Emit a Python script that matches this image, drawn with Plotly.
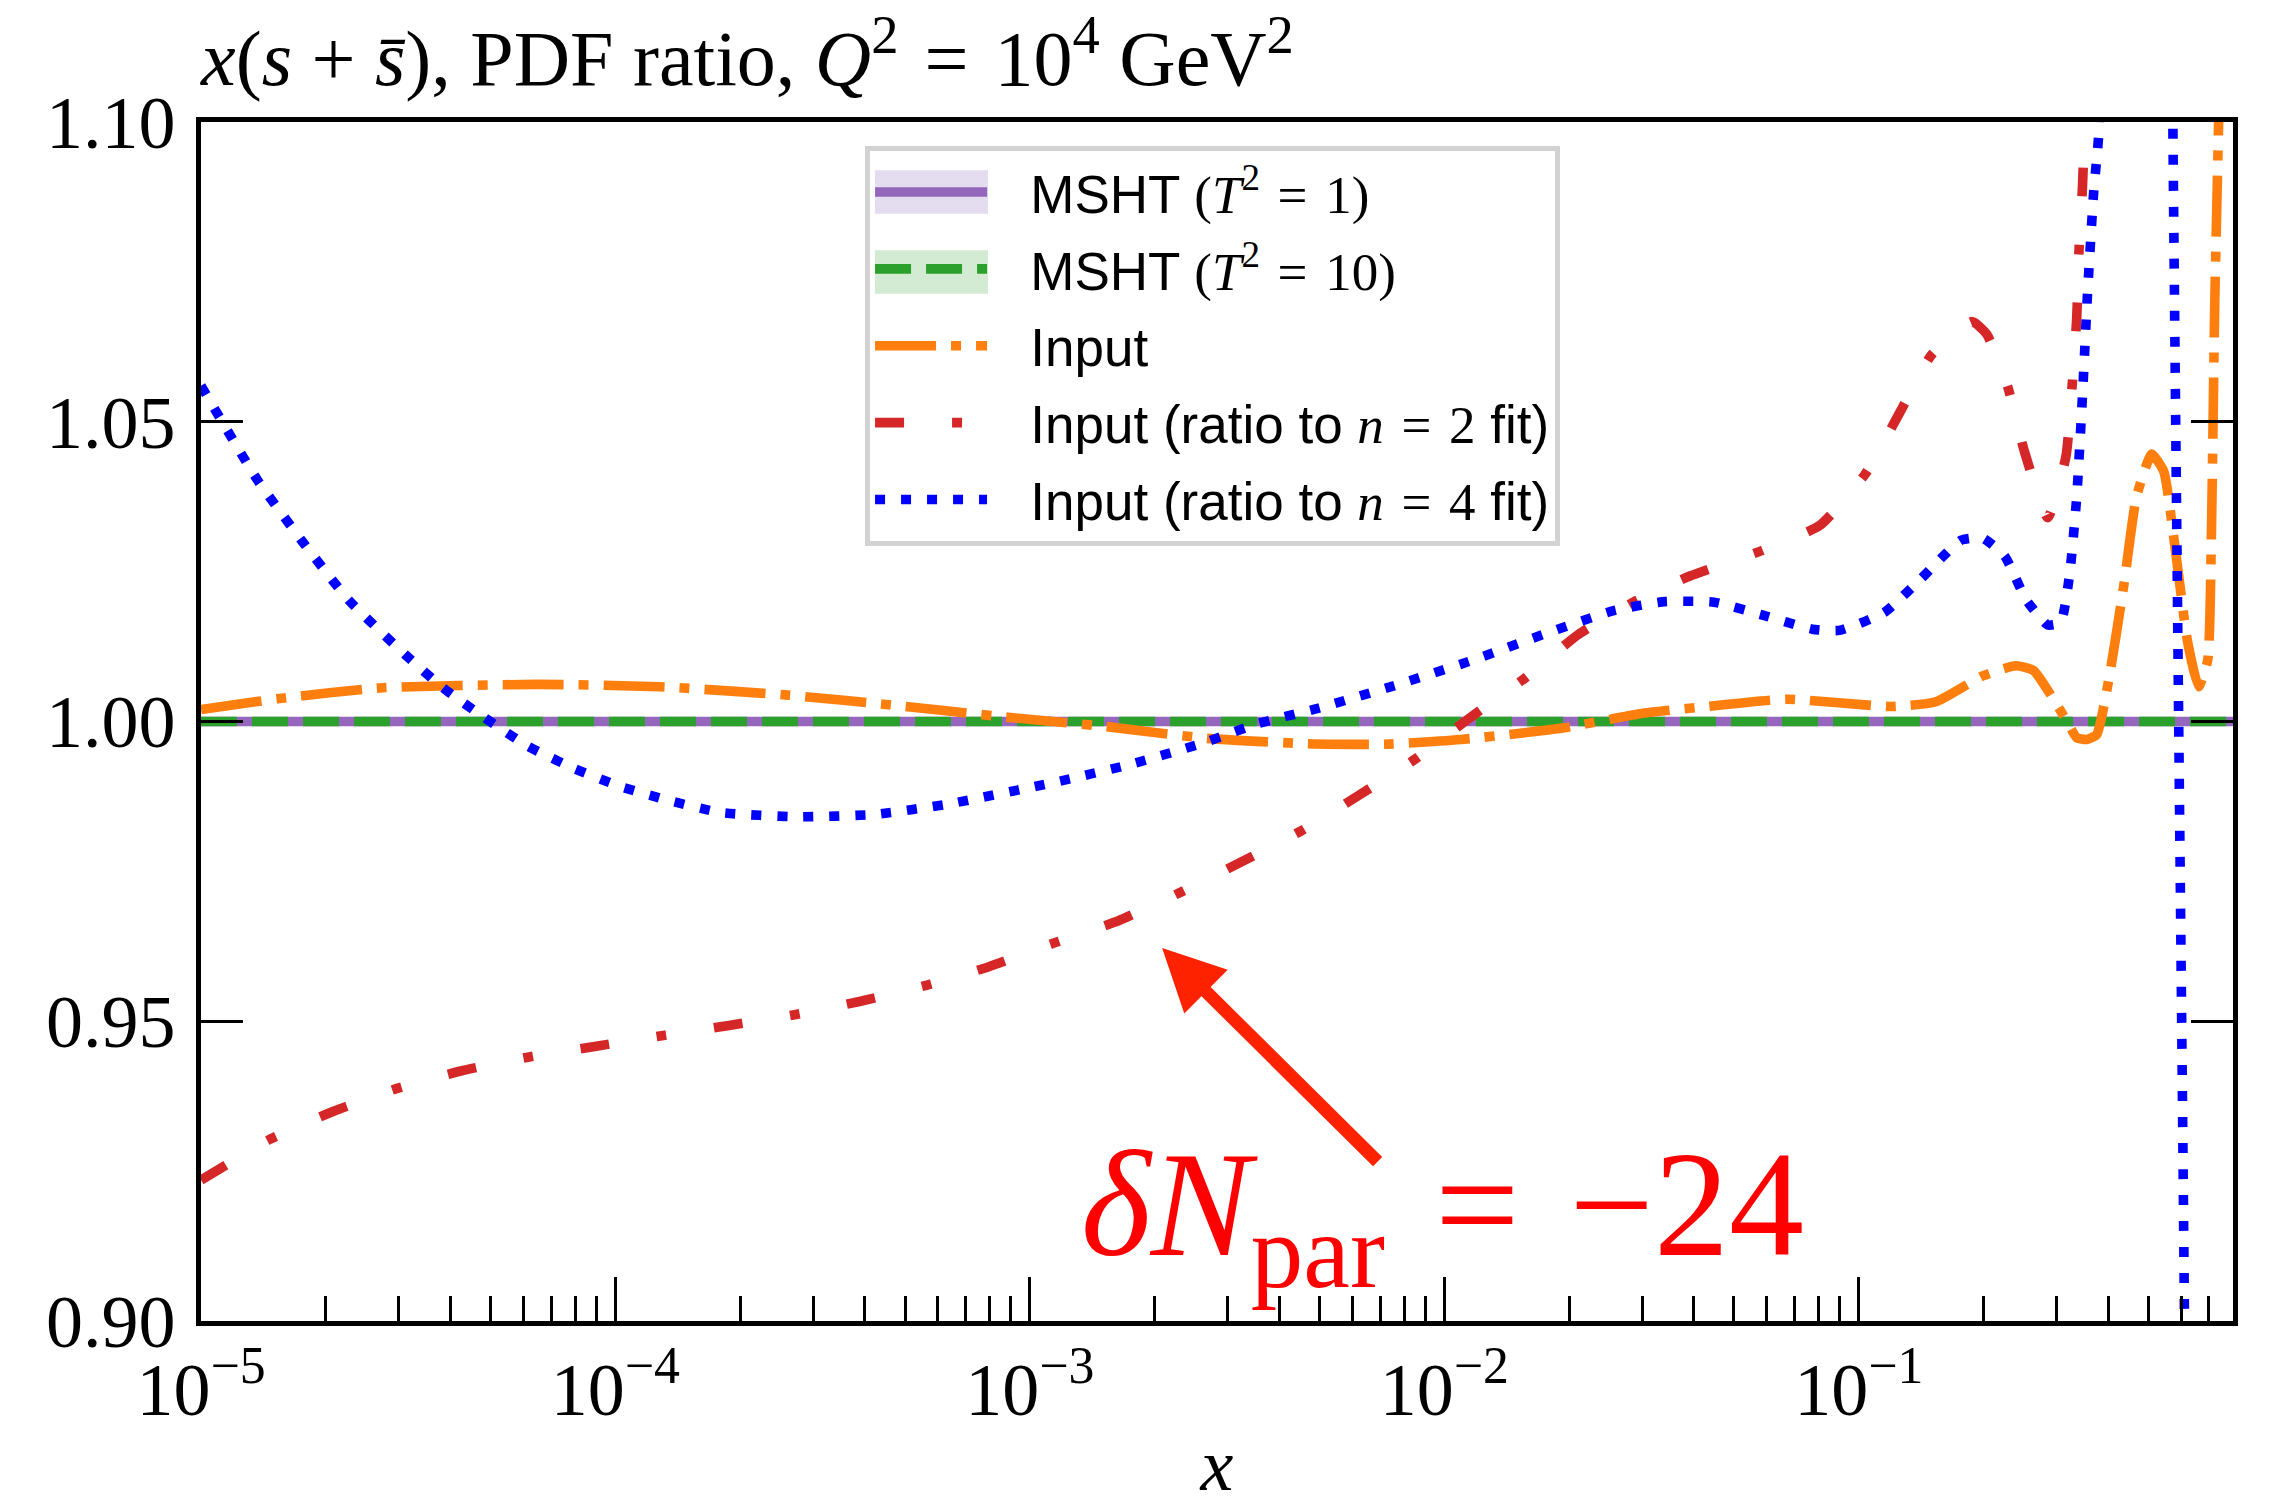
import plotly.graph_objects as go

# ---------------- data ----------------
msht_x = [1.0e-5, 1.0e-3, 1.0e-1, 0.8]
msht_t1_y = [1.0, 1.0, 1.0, 1.0]
msht_t10_y = [1.0, 1.0, 1.0, 1.0]

input_x = [1.00e-5, 1.531e-5, 2.698e-5, 6.486e-5, 1.279e-4, 2.606e-4, 4.853e-4, 8.551e-4,
           1.507e-3, 2.661e-3, 4.677e-3, 7.178e-3, 1.096e-2, 1.932e-2, 2.965e-2, 4.295e-2,
           6.699e-2, 0.1202, 0.1535, 0.1991, 0.2393, 0.2642, 0.3162, 0.3357, 0.3548, 0.3750,
           0.4027, 0.4365, 0.4677, 0.5093, 0.5445, 0.5781, 0.6209, 0.6607, 0.6950, 0.7096,
           0.7228, 0.7379, 0.7586, 0.800]
input_y = [1.0020, 1.0038, 1.0056, 1.0062, 1.0058, 1.0044, 1.0026, 1.0008,
           0.9992, 0.9972, 0.9963, 0.9962, 0.9970, 0.9989, 1.0013, 1.0025,
           1.0037, 1.0025, 1.0033, 1.0076, 1.0093, 1.0085, 1.0003, 0.9973, 0.9970, 0.9978,
           1.0076, 1.0229, 1.0374, 1.0446, 1.0417, 1.0297, 1.0135, 1.0058, 1.0102, 1.0314,
           1.0697, 1.0987, 1.14, 1.30]

n2_x = [1.00e-5, 1.466e-5, 2.089e-5, 2.972e-5, 4.236e-5, 6.152e-5, 8.913e-5, 1.294e-4,
        1.879e-4, 2.704e-4, 3.882e-4, 5.623e-4, 7.962e-4, 1.138e-3, 1.641e-3, 2.307e-3,
        3.243e-3, 4.498e-3, 6.223e-3, 8.492e-3, 1.146e-2, 1.563e-2, 2.104e-2, 2.877e-2,
        3.926e-2, 5.834e-2, 8.054e-2, 0.1035, 0.1253, 0.1500, 0.1875, 0.2037, 0.2291,
        0.2512, 0.2858, 0.3162, 0.3266, 0.3357, 0.3396, 0.3467, 0.3508, 0.3631, 0.3802]
n2_y = [0.9235, 0.9303, 0.9350, 0.9388, 0.9417, 0.9440, 0.9458, 0.9476,
        0.9493, 0.9511, 0.9533, 0.9560, 0.9591, 0.9630, 0.9668, 0.9715,
        0.9766, 0.9817, 0.9877, 0.9937, 1.0005, 1.0072, 1.0145, 1.0200,
        1.0243, 1.0285, 1.0327, 1.0412, 1.0514, 1.0612, 1.0667, 1.0646, 1.0557,
        1.0450, 1.0340, 1.0442, 1.0552, 1.0672, 1.0778, 1.0893, 1.0999, 1.15, 1.30]

n4_x = [1.00e-5, 1.365e-5, 1.762e-5, 2.275e-5, 3.105e-5, 3.837e-5, 4.819e-5, 6.138e-5,
        7.925e-5, 1.023e-4, 1.352e-4, 1.799e-4, 2.754e-4, 4.217e-4, 6.310e-4, 1.138e-3,
        1.738e-3, 2.588e-3, 3.532e-3, 4.955e-3, 7.586e-3, 1.146e-2, 1.730e-2, 2.564e-2,
        3.404e-2, 4.477e-2, 5.834e-2, 7.727e-2, 8.974e-2, 0.1153, 0.1413, 0.1762, 0.1991,
        0.2249, 0.2535, 0.2858, 0.3069, 0.3228, 0.3357, 0.3467, 0.3565, 0.3690, 0.3793,
        0.3890, 0.4169, 0.4677, 0.5248, 0.5559, 0.5728, 0.5916, 0.6109, 0.6310]
n4_y = [1.0560, 1.0404, 1.0299, 1.0202, 1.0112, 1.0056, 1.0007, 0.9959,
        0.9922, 0.9892, 0.9868, 0.9848, 0.9841, 0.9845, 0.9862, 0.9898,
        0.9928, 0.9963, 0.9996, 1.0022, 1.0060, 1.0100, 1.0145, 1.0185,
        1.0200, 1.0199, 1.0178, 1.0154, 1.0152, 1.0182, 1.0238, 1.0302, 1.0306,
        1.0276, 1.0203, 1.0161, 1.0165, 1.0246, 1.0374, 1.0544, 1.0714, 1.0884, 1.0978,
        1.13, 1.30, 1.80, 1.80, 1.25, 1.10, 1.00, 0.90, 0.70]

y_tickvals = [0.90, 0.95, 1.00, 1.05, 1.10]
y_ticktext = ["0.90", "0.95", "1.00", "1.05", "1.10"]
x_tickvals = [1e-5, 1e-4, 1e-3, 1e-2, 1e-1]
x_ticktext = ["10<sup>\u22125</sup>", "10<sup>\u22124</sup>", "10<sup>\u22123</sup>",
              "10<sup>\u22122</sup>", "10<sup>\u22121</sup>"]
x_minor = [m * 10.0 ** e for e in range(-5, 0) for m in range(2, 10)]
x_minor = [v for v in x_minor if v < 0.8]

SERIF = "Liberation Serif"
SANS = "Liberation Sans"
LW = 9.6
PAD = "\u00a0\u00a0\u2006"
EQ = " \u200a=\u200a "


def math(s):
    return '<span style="font-family:%s">%s</span>' % (SERIF, s)


fig = go.Figure()
fig.add_trace(go.Scatter(
    x=msht_x, y=msht_t1_y, mode="lines", legendgroup="g1",
    name=PAD + "MSHT " + math("(<i>T</i><sup>2</sup>" + EQ + "1)"),
    line=dict(color="#9467bd", width=LW)))
fig.add_trace(go.Scatter(
    x=msht_x, y=msht_t10_y, mode="lines", legendgroup="g2",
    name=PAD + "MSHT " + math("(<i>T</i><sup>2</sup>" + EQ + "10)"),
    line=dict(color="#2ca02c", width=LW, dash="36px,15px")))
fig.add_trace(go.Scatter(
    x=input_x, y=input_y, mode="lines", name=PAD + "Input", legendgroup="g3",
    line=dict(color="#ff7f0e", width=LW, dash="61px,15px,10px,15px",
              shape="spline", smoothing=0.5)))
fig.add_trace(go.Scatter(
    x=n2_x, y=n2_y, mode="lines", legendgroup="g4",
    name=PAD + "Input (ratio to " + math("<i>n</i>" + EQ + "2") + " fit)",
    line=dict(color="#d62728", width=LW, dash="29px,48px,10px,48px",
              shape="spline", smoothing=0.5)))
fig.add_trace(go.Scatter(
    x=n4_x, y=n4_y, mode="lines", legendgroup="g5",
    name=PAD + "Input (ratio to " + math("<i>n</i>" + EQ + "4") + " fit)",
    line=dict(color="#0000ff", width=LW, dash="10px,16px",
              shape="spline", smoothing=0.5)))

# annotation text and arrow
fig.add_annotation(
    xref="paper", yref="paper", x=0.432, y=0.088, xanchor="left", yanchor="middle",
    text="<i>\u03b4N</i><sub>par</sub>" + EQ + "\u221224", showarrow=False,
    font=dict(family=SERIF, size=150, color="#ff0000"))
fig.add_annotation(
    xref="paper", yref="paper", x=0.473, y=0.311, ax=217, ay=215,
    axref="pixel", ayref="pixel", text="", showarrow=True,
    arrowhead=2, arrowsize=0.95, arrowwidth=13, arrowcolor="#ff2200")

# uncertainty-band swatches behind the MSHT legend symbols
fig.add_shape(type="rect", xref="paper", yref="paper", layer="below",
              x0=0.3317, x1=0.3873, y0=0.9235, y1=0.9597,
              fillcolor="#e4dcef", line=dict(width=0))
fig.add_shape(type="rect", xref="paper", yref="paper", layer="below",
              x0=0.3317, x1=0.3873, y0=0.8568, y1=0.8930,
              fillcolor="#d2ebd2", line=dict(width=0))

fig.update_layout(
    width=2269, height=1506,
    margin=dict(l=201, r=36, t=122, b=185),
    paper_bgcolor="white", plot_bgcolor="white",
    font=dict(family=SERIF, color="black"),
    title=dict(
        text="<i>x</i>(<i>s</i> + <i>s\u0304</i>), PDF ratio, <i>Q</i><sup>2</sup>" + EQ + "10<sup>4</sup> GeV<sup>2</sup>",
        x=0.0886, xref="container", xanchor="left",
        y=1 - 58 / 1506, yref="container", yanchor="middle",
        font=dict(family=SERIF, size=78, color="black")),
    legend=dict(
        x=0.3268, y=0.98, xanchor="left", yanchor="top",
        bgcolor="rgba(255,255,255,0)", bordercolor="#d2d2d2", borderwidth=5,
        font=dict(family=SANS, size=53, color="black"),
        itemwidth=112, tracegroupgap=5, traceorder="grouped"),
    showlegend=True,
)
fig.update_xaxes(
    type="log", range=[-5, -0.09691], showgrid=False, zeroline=False, automargin=False,
    showline=True, linecolor="black", linewidth=4.5, mirror=True,
    ticks="inside", ticklen=44, tickwidth=3, tickcolor="black",
    tickvals=x_tickvals, ticktext=x_ticktext,
    tickfont=dict(family=SERIF, size=74, color="black"),
    minor=dict(ticks="inside", ticklen=25, tickwidth=3, tickcolor="black",
               tickmode="array", tickvals=x_minor, showgrid=False),
    title=dict(text="<i>x</i>", font=dict(family=SERIF, size=74, color="black"), standoff=32),
)
fig.update_yaxes(
    range=[0.9, 1.1], showgrid=False, zeroline=False, automargin=False,
    showline=True, linecolor="black", linewidth=4.5, mirror="ticks",
    ticks="inside", ticklen=42, tickwidth=3, tickcolor="black",
    tickvals=y_tickvals, ticktext=y_ticktext, ticklabelstandoff=6,
    tickfont=dict(family=SERIF, size=74, color="black"),
)

fig.write_html("out.html")
